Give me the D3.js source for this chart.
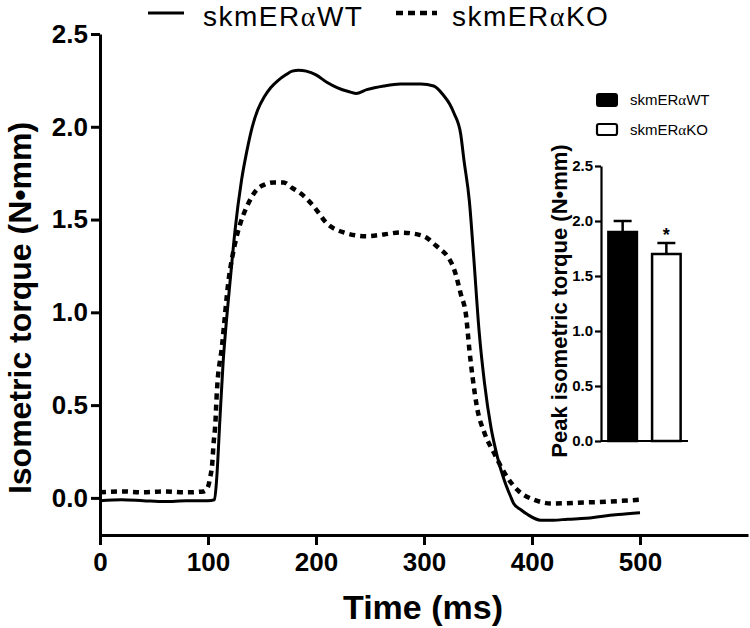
<!DOCTYPE html>
<html>
<head>
<meta charset="utf-8">
<script src="https://cdn.jsdelivr.net/npm/d3@7"></script>
<style>
  html, body { margin: 0; padding: 0; background: #fff; }
  svg { display: block; }
  text { font-family: "Liberation Sans", Arial, sans-serif; fill: #000; }
</style>
</head>
<body>
<svg id="chart" width="750" height="628"></svg>
<script>
// ---- Data ----
const seriesNames = ["skmER\u03b1WT", "skmER\u03b1KO"];

const wtTime = [0, 20, 40, 60, 80, 100, 106, 108, 111, 114, 117, 121, 125, 131, 136, 141, 146, 152, 158, 165, 172, 178, 184, 191, 200, 210, 220, 230, 237, 247, 263, 278, 297, 309, 318, 324, 328, 334, 337, 342, 346, 351, 356, 362, 368, 374, 380, 383, 390, 396, 408, 420, 433, 450, 464, 480, 500];
const wtTorque = [-0.015, -0.01, -0.015, -0.02, -0.015, -0.015, -0.01, 0.10, 0.42, 0.73, 0.95, 1.20, 1.44, 1.71, 1.87, 2.00, 2.09, 2.16, 2.21, 2.25, 2.28, 2.30, 2.305, 2.30, 2.28, 2.24, 2.21, 2.19, 2.18, 2.20, 2.22, 2.23, 2.23, 2.22, 2.17, 2.12, 2.07, 1.96, 1.82, 1.60, 1.30, 0.90, 0.62, 0.38, 0.22, 0.10, 0.01, -0.03, -0.065, -0.09, -0.12, -0.12, -0.115, -0.11, -0.10, -0.09, -0.08];

const koTime = [0, 20, 40, 60, 80, 96, 100, 102, 104, 105, 107, 108, 113, 119, 125, 130, 136, 145, 153, 161, 170, 178, 186, 198, 210, 226, 247, 263, 278, 294, 303, 309, 315, 322, 328, 334, 339, 342, 345, 349, 356, 365, 375, 387, 402, 418, 448, 470, 500];
const koTorque = [0.03, 0.035, 0.03, 0.035, 0.03, 0.035, 0.06, 0.11, 0.19, 0.28, 0.42, 0.55, 0.82, 1.17, 1.37, 1.48, 1.57, 1.66, 1.69, 1.70, 1.70, 1.67, 1.64, 1.57, 1.48, 1.43, 1.41, 1.42, 1.43, 1.42, 1.40, 1.37, 1.34, 1.30, 1.23, 1.10, 0.98, 0.80, 0.65, 0.49, 0.35, 0.24, 0.13, 0.04, -0.01, -0.03, -0.025, -0.02, -0.01];

const xTicks = [0, 100, 200, 300, 400, 500];
const yTicks = [0, 0.5, 1.0, 1.5, 2.0, 2.5];

const insetGroups = ["WT", "KO"];
const peakMean = [1.9, 1.7];
const peakErr = [0.1, 0.1];
const insetTicks = [0, 0.5, 1.0, 1.5, 2.0, 2.5];

// ---- Layout ----
const svg = d3.select("#chart");
const font = '"Liberation Sans", Arial, sans-serif';

const x = d3.scaleLinear().domain([0, 600]).range([100, 748]);
const y = d3.scaleLinear().domain([-0.2, 2.5]).range([535, 34]);

// axes
const yAxis = svg.append("g").attr("transform", "translate(100,0)")
  .call(d3.axisLeft(y).tickValues(yTicks).tickFormat(d3.format(".1f")).tickSize(9).tickSizeOuter(0).tickPadding(3));
const xAxis = svg.append("g").attr("transform", "translate(0,535)")
  .call(d3.axisBottom(x).tickValues(xTicks).tickFormat(d3.format("d")).tickSize(10).tickSizeOuter(0).tickPadding(8));

[yAxis, xAxis].forEach(g => {
  g.select(".domain").attr("stroke", "#000").attr("stroke-width", 3);
  g.selectAll(".tick line").attr("stroke", "#000").attr("stroke-width", 3);
  g.selectAll(".tick text").attr("font-family", font).attr("font-weight", "bold")
    .attr("font-size", 26).attr("fill", "#000");
});

// axis titles
svg.append("text")
  .attr("transform", "translate(31,308) rotate(-90)")
  .attr("text-anchor", "middle")
  .attr("font-weight", "bold").attr("font-size", 32)
  .text("Isometric torque (N\u2022mm)");

svg.append("text")
  .attr("x", 423).attr("y", 619)
  .attr("text-anchor", "middle")
  .attr("font-weight", "bold").attr("font-size", 34)
  .text("Time (ms)");

// lines
const line = d3.line().x(d => x(d[0])).y(d => y(d[1])).curve(d3.curveMonotoneX);
const wtData = wtTime.map((t, i) => [t, wtTorque[i]]);
const koData = koTime.map((t, i) => [t, koTorque[i]]);

svg.append("path").datum(wtData)
  .attr("d", line).attr("fill", "none").attr("stroke", "#000")
  .attr("stroke-width", 3).attr("stroke-linejoin", "round");

svg.append("path").datum(koData)
  .attr("d", line).attr("fill", "none").attr("stroke", "#000")
  .attr("stroke-width", 4.5).attr("stroke-dasharray", "6,5");

// top legend
const legY = 13;
svg.append("line").attr("x1", 148).attr("x2", 184).attr("y1", legY).attr("y2", legY)
  .attr("stroke", "#000").attr("stroke-width", 3);
svg.append("line").attr("x1", 396).attr("x2", 437).attr("y1", legY).attr("y2", legY)
  .attr("stroke", "#000").attr("stroke-width", 4.5).attr("stroke-dasharray", "7,5");

function legendText(g, tx, ty, size, label, spacing) {
  const t = g.append("text").attr("x", tx).attr("y", ty).attr("font-size", size)
    .attr("letter-spacing", spacing || 0);
  t.append("tspan").text(label.split("\u03b1")[0]);
  t.append("tspan").attr("font-family", '"Liberation Serif", "DejaVu Serif", serif').text("\u03b1");
  t.append("tspan").text(label.split("\u03b1")[1]);
  return t;
}
legendText(svg, 203, 26, 28, seriesNames[0], 1.5);
legendText(svg, 452, 26, 28, seriesNames[1], 1.5);

// ---- Inset bar chart ----
const iy = d3.scaleLinear().domain([0, 2.5]).range([441, 166]);
const ix = d3.scaleBand().domain(insetGroups).range([601, 688]).paddingInner(0.29).paddingOuter(0.14);

const inset = svg.append("g");

insetGroups.forEach((g, i) => {
  const bx = ix(g), bw = ix.bandwidth();
  const cx = bx + bw / 2;
  inset.append("line").attr("x1", cx).attr("x2", cx)
    .attr("y1", iy(peakMean[i])).attr("y2", iy(peakMean[i] + peakErr[i]))
    .attr("stroke", "#000").attr("stroke-width", 2.5);
  inset.append("line").attr("x1", cx - 9).attr("x2", cx + 9)
    .attr("y1", iy(peakMean[i] + peakErr[i])).attr("y2", iy(peakMean[i] + peakErr[i]))
    .attr("stroke", "#000").attr("stroke-width", 2.5);
  inset.append("rect")
    .attr("x", bx + 1.25).attr("y", iy(peakMean[i]))
    .attr("width", bw - 2.5).attr("height", iy(0) - iy(peakMean[i]))
    .attr("fill", i === 0 ? "#000" : "#fff")
    .attr("stroke", "#000").attr("stroke-width", 2.5);
});

inset.append("text")
  .attr("x", ix("KO") + ix.bandwidth() / 2).attr("y", iy(peakMean[1] + peakErr[1]) - 2)
  .attr("text-anchor", "middle").attr("font-weight", "bold").attr("font-size", 18)
  .text("*");

const iyAxis = inset.append("g").attr("transform", "translate(601,0)")
  .call(d3.axisLeft(iy).tickValues(insetTicks).tickFormat(d3.format(".1f")).tickSize(6).tickSizeOuter(0).tickPadding(2));
const ixAxis = inset.append("g").attr("transform", "translate(0,441)")
  .call(d3.axisBottom(ix).tickSize(0).tickSizeOuter(0).tickFormat(""));
[iyAxis, ixAxis].forEach(g => {
  g.select(".domain").attr("stroke", "#000").attr("stroke-width", 2.2);
  g.selectAll(".tick line").attr("stroke", "#000").attr("stroke-width", 2.2);
  g.selectAll(".tick text").attr("font-family", font).attr("font-weight", "bold")
    .attr("font-size", 15).attr("fill", "#000");
});
ixAxis.select(".domain").attr("d", "M601,0H688");

inset.append("text")
  .attr("transform", "translate(567,301) rotate(-90)")
  .attr("text-anchor", "middle").attr("font-weight", "bold").attr("font-size", 22)
  .text("Peak isometric torque (N\u2022mm)");

// inset legend
inset.append("rect").attr("x", 597).attr("y", 94).attr("width", 20).attr("height", 12)
  .attr("rx", 2).attr("fill", "#000").attr("stroke", "#000").attr("stroke-width", 2);
inset.append("rect").attr("x", 597).attr("y", 124).attr("width", 20).attr("height", 11)
  .attr("rx", 2).attr("fill", "#fff").attr("stroke", "#000").attr("stroke-width", 2.2);
legendText(inset, 630, 105, 15, seriesNames[0]);
legendText(inset, 630, 135, 15, seriesNames[1]);
</script>
</body>
</html>
